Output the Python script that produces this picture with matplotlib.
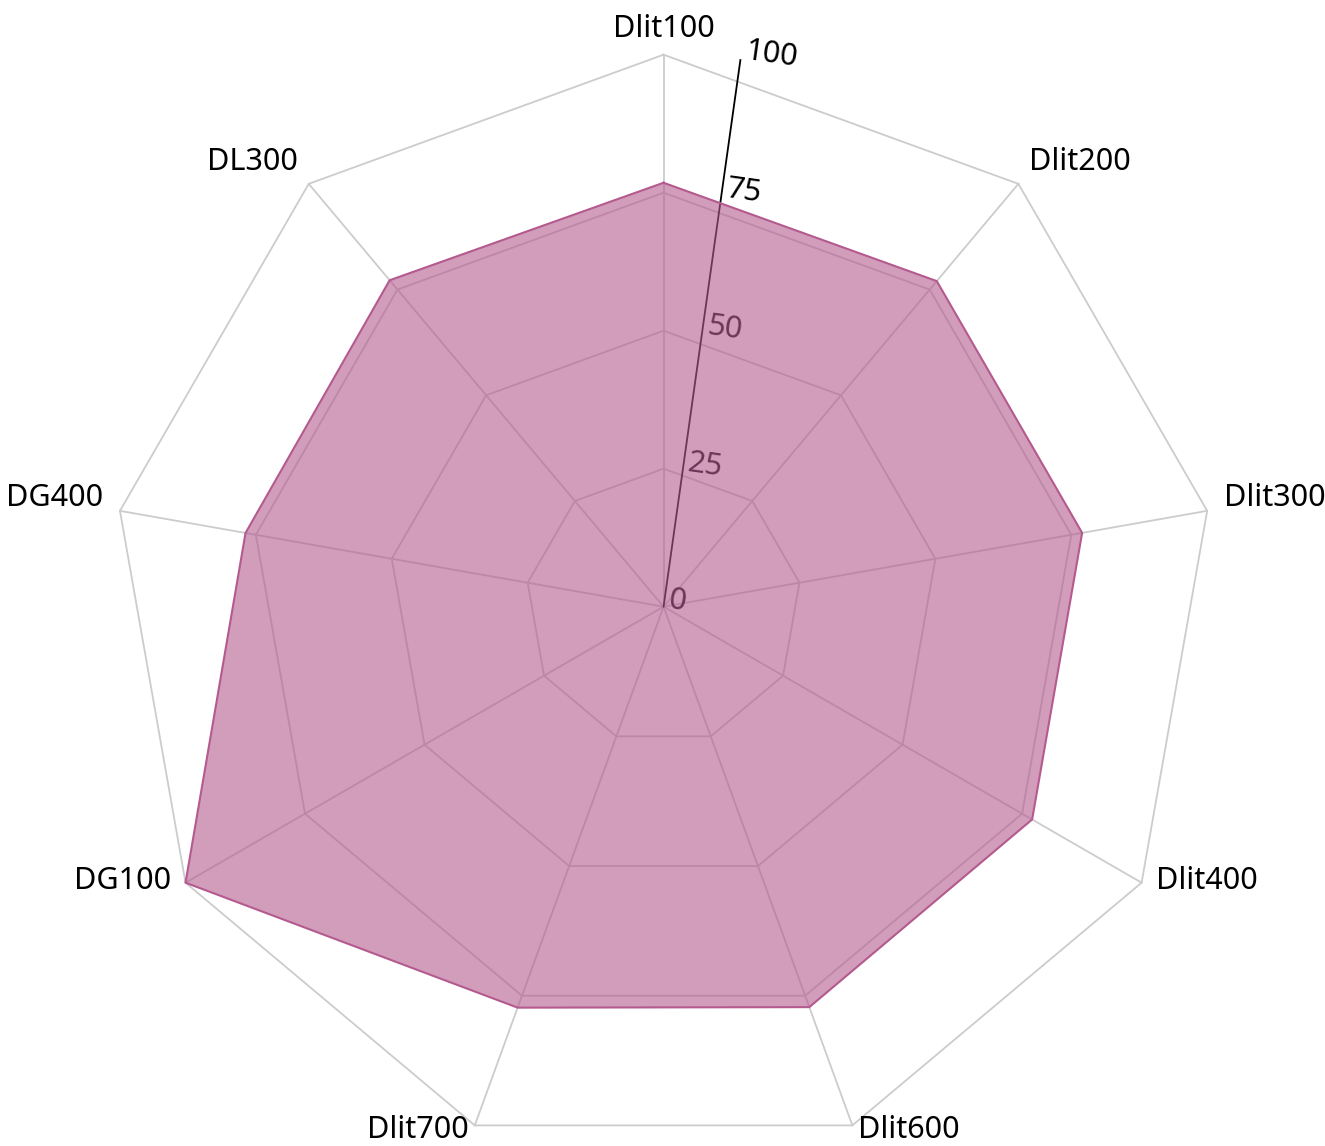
import numpy as np
import matplotlib
matplotlib.use("Agg")
import matplotlib.pyplot as plt

# Categories, clockwise from the top
categories = ['Dlit100', 'Dlit200', 'Dlit300', 'Dlit400', 'Dlit600',
              'Dlit700', 'DG100', 'DG400', 'DL300']
values = [76.8, 77.0, 77.0, 77.1, 77.2, 77.3, 100, 76.9, 77.2]
radial_ticks = [0, 25, 50, 75, 100]

plt.rcParams['font.family'] = ['Noto Sans', 'DejaVu Sans']

fill_color = '#B45A8F'
grid_color = '#CCCCCC'

fig = plt.figure(figsize=(13.25, 11.46), dpi=100)
ax = fig.add_axes([0.0842, -0.0111, 0.8332, 0.9634], projection='polar')
ax.set_theta_offset(np.pi / 2)
ax.set_theta_direction(-1)
ax.set_ylim(0, 100)
ax.grid(False)
ax.set_xticks([])
ax.set_yticks([])
ax.spines['polar'].set_visible(False)
ax.patch.set_alpha(0)

n = len(categories)
angles = np.arange(n) * 2 * np.pi / n
closed = np.append(angles, angles[0])

# polygonal grid + spokes
for t in radial_ticks[1:]:
    ax.plot(closed, [t] * (n + 1), color=grid_color, lw=1.3, zorder=1, clip_on=False)
for a in angles:
    ax.plot([a, a], [0, 100], color=grid_color, lw=1.3, zorder=1, clip_on=False)

# radial axis line and its tick labels (under the fill)
axis_angle = np.radians(8)
ax.plot([axis_angle, axis_angle], [0, 100], color='black', lw=1.3, zorder=2, clip_on=False)
for t in radial_ticks:
    ax.annotate(str(t), xy=(axis_angle, t), xytext=(3, 5), textcoords='offset pixels',
                ha='left', va='center', fontsize=22, rotation=-8,
                color='black', zorder=2, annotation_clip=False)

# data
vals = np.append(values, values[0])
ax.fill(closed, vals, color=fill_color, alpha=0.6, lw=0, zorder=3)
ax.plot(closed, vals, color=fill_color, lw=1.5, zorder=4, clip_on=False)

# category labels
for a, lab in zip(angles, categories):
    c = np.sin(a)   # screen x direction (clockwise from top)
    s = np.cos(a)   # screen y direction
    if c > 0.1:
        ha = 'left'
    elif c < -0.1:
        ha = 'right'
    else:
        ha = 'center'
    ax.annotate(lab, xy=(a, 100), xytext=(17 * c, 10 + 16 * s),
                textcoords='offset pixels', ha=ha, va='center',
                fontsize=22, color='black', annotation_clip=False)

fig.savefig('out.png', dpi=100)
